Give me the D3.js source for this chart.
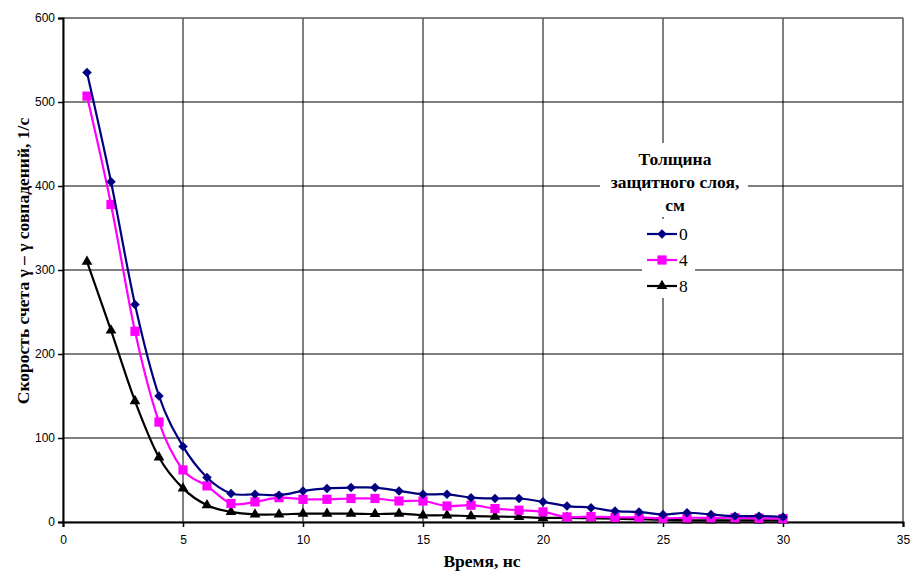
<!DOCTYPE html>
<html>
<head>
<meta charset="utf-8">
<script src="https://cdn.jsdelivr.net/npm/d3@7"></script>
<style>
  body { margin: 0; background: #fff; }
  svg { display: block; }
</style>
</head>
<body>
<div id="chart"></div>
<script>
'use strict';

// ---------- Data ---------- //
var times = d3.range(1, 31);
var rate0 = [535, 405, 259, 150, 90, 53, 34, 33, 32, 37, 40, 41, 41, 37, 33, 33, 29, 28, 28, 24, 19, 17, 13, 12, 9, 11, 9, 7, 7, 6];
var rate4 = [507, 378, 227, 119, 62, 43, 22, 24, 29, 27, 27, 28, 28, 25, 25, 19, 20, 16, 14, 12, 6, 6.5, 5.5, 5.5, 4.5, 5, 5, 5, 4.5, 4];
var rate8 = [310, 228, 144, 77, 40, 20, 12, 9, 9, 10, 10, 10, 9.5, 10, 8, 8, 7, 6.5, 6, 5, 5, 4.5, 4, 3.3, 2.6, 2, 2, 2, 2, 2];
var seriesNames = ['0', '4', '8'];
var xTicks = [0, 5, 10, 15, 20, 25, 30, 35];
var yTicks = [0, 100, 200, 300, 400, 500, 600];

var series = [
  { name: seriesNames[0], values: rate0, color: '#000080', symbol: d3.symbolSquare, size: 45, rot: 45 },
  { name: seriesNames[1], values: rate4, color: '#ff00ff', symbol: d3.symbolSquare, size: 85, rot: 0 },
  { name: seriesNames[2], values: rate8, color: '#000000', symbol: d3.symbolTriangle, size: 50, rot: 0 }
];

// ---------- Layout ---------- //
var width = 913;
var height = 572;
var margin = { top: 18, right: 10, bottom: 50, left: 63 };
var innerW = width - margin.left - margin.right;
var innerH = height - margin.top - margin.bottom;

var svg = d3.select('#chart').append('svg')
  .attr('width', width)
  .attr('height', height);

var g = svg.append('g')
  .attr('transform', 'translate(' + margin.left + ',' + margin.top + ')');

var x = d3.scaleLinear().domain([0, 35]).range([0, innerW]);
var y = d3.scaleLinear().domain([0, 600]).range([innerH, 0]);

// grid
g.append('g').selectAll('line').data(xTicks.slice(1))
  .enter().append('line')
  .attr('x1', function (d) { return x(d); })
  .attr('x2', function (d) { return x(d); })
  .attr('y1', 0).attr('y2', innerH)
  .attr('stroke', '#000').attr('stroke-width', 1);

g.append('g').selectAll('line').data(yTicks.slice(1))
  .enter().append('line')
  .attr('x1', 0).attr('x2', innerW)
  .attr('y1', function (d) { return y(d); })
  .attr('y2', function (d) { return y(d); })
  .attr('stroke', '#000').attr('stroke-width', 1);

// plot frame
g.append('rect')
  .attr('x', 0).attr('y', 0)
  .attr('width', innerW).attr('height', innerH)
  .attr('fill', 'none').attr('stroke', '#808080').attr('stroke-width', 1);

// axes
var xAxis = g.append('g')
  .attr('transform', 'translate(0,' + innerH + ')')
  .call(d3.axisBottom(x).tickValues(xTicks).tickSize(5).tickPadding(8));
var yAxis = g.append('g')
  .call(d3.axisLeft(y).tickValues(yTicks).tickSize(5).tickPadding(3));

[xAxis, yAxis].forEach(function (a) {
  a.select('.domain').attr('stroke', '#000').attr('stroke-width', 2);
  a.selectAll('.tick line').attr('stroke', '#000').attr('stroke-width', 1.5);
  a.selectAll('.tick text')
    .attr('fill', '#000')
    .style('font-family', 'Arial, "Liberation Sans", sans-serif')
    .style('font-size', '12px');
});

// lines
var line = d3.line()
  .x(function (d, i) { return x(times[i]); })
  .y(function (d) { return y(d); })
  .curve(d3.curveCatmullRom.alpha(0));

function marker(s) {
  return d3.symbol().type(s.symbol).size(s.size);
}

series.slice().reverse().forEach(function (s) {
  g.append('path')
    .datum(s.values)
    .attr('d', line)
    .attr('fill', 'none')
    .attr('stroke', s.color)
    .attr('stroke-width', 2.2);

  g.append('g').selectAll('path').data(s.values)
    .enter().append('path')
    .attr('transform', function (d, i) {
      return 'translate(' + x(times[i]) + ',' + y(d) + ') rotate(' + s.rot + ')';
    })
    .attr('d', marker(s))
    .attr('fill', s.color);
});

// axis titles
var titleFont = '"Liberation Serif", "Times New Roman", serif';
svg.append('text')
  .attr('x', 482).attr('y', 567)
  .attr('text-anchor', 'middle')
  .style('font-family', titleFont)
  .style('font-size', '17.5px')
  .style('font-weight', 'bold')
  .text('Время, нс');

svg.append('text')
  .attr('transform', 'translate(29,261) rotate(-90)')
  .attr('text-anchor', 'middle')
  .style('font-family', titleFont)
  .style('font-size', '17.5px')
  .style('font-weight', 'bold')
  .text('Скорость счета γ – γ совпадений, 1/с');

// legend
var legend = svg.append('g');
legend.append('rect')
  .attr('x', 600).attr('y', 143).attr('width', 148).attr('height', 74)
  .attr('fill', '#fff');
legend.append('rect')
  .attr('x', 642).attr('y', 219).attr('width', 53).attr('height', 79)
  .attr('fill', '#fff');

var legendTitle = ['Толщина', 'защитного слоя,', 'см'];
legend.selectAll('text.title').data(legendTitle)
  .enter().append('text')
  .attr('class', 'title')
  .attr('x', 675)
  .attr('y', function (d, i) { return 165 + i * 23; })
  .attr('text-anchor', 'middle')
  .style('font-family', titleFont)
  .style('font-size', '17.5px')
  .style('font-weight', 'bold')
  .text(function (d) { return d; });

series.forEach(function (s, i) {
  var ly = 234 + i * 26;
  legend.append('line')
    .attr('x1', 647).attr('x2', 677)
    .attr('y1', ly).attr('y2', ly)
    .attr('stroke', s.color).attr('stroke-width', 2.2);
  legend.append('path')
    .attr('transform', 'translate(662,' + ly + ') rotate(' + s.rot + ')')
    .attr('d', marker(s))
    .attr('fill', s.color);
  legend.append('text')
    .attr('x', 679).attr('y', ly + 6)
    .style('font-family', titleFont)
    .style('font-size', '17.5px')
    .text(s.name);
});
</script>
</body>
</html>
